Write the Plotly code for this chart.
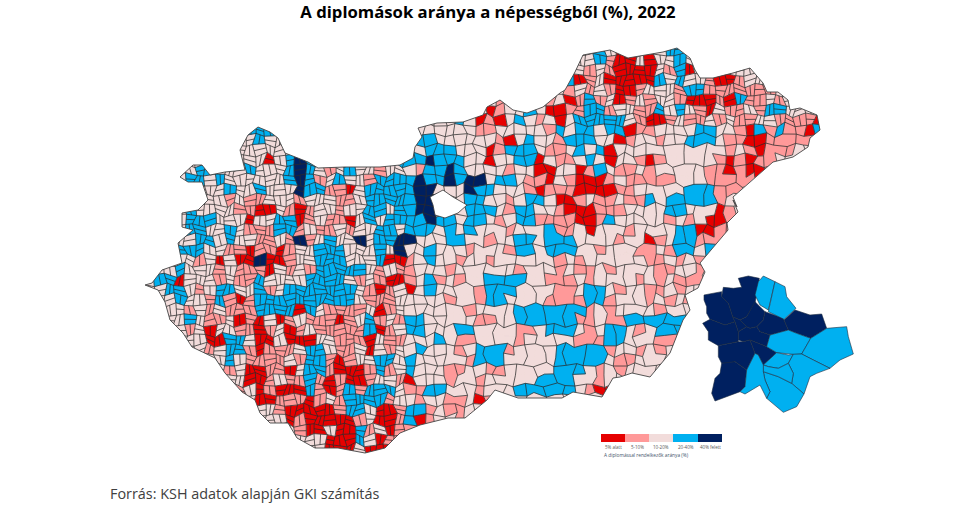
import plotly.graph_objects as go
import math

TITLE = "A diplomások aránya a népességből (%), 2022"
SOURCE = "Forrás: KSH adatok alapján GKI számítás"
LEGEND_TITLE = "A diplomással rendelkezők aránya (%)"
CATEGORY_KEYS = ["a", "b", "c", "d", "e"]
CATEGORY_LABELS = ["5% alatt", "5-10%", "10-20%", "20-40%", "40% felett"]
CATEGORY_COLORS = ["#E60000", "#FF9999", "#F2DCDB", "#00B0F0", "#002060"]

# Category of each map cell: one row per 10 px band,
# 10 columns per group; "." lies outside the country and is masked.
CELL_ROWS = [
".......... .......... .......... .......... ....cdcacc ccddc..... .........",
".......... .......... .......... .......... ...ccdbaac accdcaa... .........",
".......... .......... .......... .......... ..ccbcbaaa acbdac.... cc.......",
".......... .......... .......... .......... ..dabcaaaa adcdccbaab ccc......",
".......... .......... .......... .......... .cbcbcbaab cccbddbbbb bbbcc....",
".......... .......... .......... ....cbc..c bcabdbcabc bccbaaabad bbcbccc..",
".......... .......... .......... ....abccdc aabbddbccb bdcdcbacbb cbddcccc.",
".......... .......... .......... cdcabacdcb cacdddddcb aabcbbcbcb bccbbbba.",
".......... ddd....... .......ccc cccbbccccc bdcddcddab bccccddccb adbdbbad.",
".......... cdccc..... .......ddc cccccbacdc cbdddccabc cbccdddcbb aabbbbb..",
".......... cccccd.... .......cdd dcccabdddc bbcdcdaccc ccccccccbc babbbcc..",
".........c ccacdedccc cccccddded ddccaccdda cbbcdcaccb abcccccbab abbcc....",
".....ddccc dcccdedcbc dccbcccbdd edccccbcca accabdcbbc bcccccbbab aab......",
"....ddcdcc ccccdedbcd ccbddddedd edeecddcbb acbaaabcbb bbbcccbbbb ba.......",
"......ccdc cdccceddbb acdddddee. ..eddcccba bbbaaaabbc ccccdddbbb .........",
".....cccbc bbcccbcccb bcdddddeee ..ddccbcdd caabcbbcbb dcdddddbc. .........",
"....dccccb baacbabccb ccddcddee. ..dddcbddc cbaaabbbcc ccddcccab. .........",
"....dddccc accddabcbb acdcdddded dcddcbcddb bbbaabdccc ccbcbcaab. .........",
"....ddccdc bbbddbcbbc bccddcdddc dcdcccbccc dbbcacccbc cccddaabb. .........",
"....cddcdc cbbcbebcdc cecddeeccc ddccbccddc dddccccbcc abcddbbbcc .........",
"...dddccbb abbabccddd cccdceccdc ccbcccbddc dddccbcccb bcbddcddcc .........",
"...ccbcaca aeaabccddd cccdaabcdc cbccbccccc cbcbcccccc bbcbcbcbcc .........",
"..cdcccbcb bbacbcbddd ddcbcbbccc bccccccbcc cbcbbcbccc cbbccbcccc .........",
".ddacccbcb bdccccdddd cbcbaabcdb cbccddddcc bbbcbccccb cbcbbbcccc .........",
"ccddcbcddc cdbcdddddd dcbabcacdc cccbdddccc cbbcddcbcc bbcbcccccc .........",
"..cdccbdba bddddddddd dcbbbccccc bccbddcccc bbbbddbccc bcbcbccccc .........",
"..ccbcbcbb bddddadcbb bbcabccccc ccbccccddd ddddbcbccc cbcccccccc .........",
"...cdcbbca bacabcbbba bcdbcbddcc cccbbccddd dddbbcbbdd ddddcccccc .........",
"...cbcaccb babcabcbbb bbdabcddcc cddccccbbc dddcbcddcb cdddcccccc .........",
"....ccaadd caacaaaccb bbacbbcccd cbbccccbcc cccbbbddcc cbbccccccc .........",
"....ccbcdd babbbcddcb bcacbccdcc cbcdddbccc cdddddbccb cbcccccccc .........",
".......cdc bbbbcbddba bccddcdccc ccbdddcccc cdddddcbbc cccccccccc .........",
"........bc aabbacddba aabdbcdccc bbccbbcccc cdddcbcbcc cccccccccc .........",
".........c aabcbbdbab aabccbaccc bccbcccccd dddccbcccc cccccccccc .........",
".........b cabaaadbab dbdddcbbdd cccbcccddd dddcbaaccc cccccccccc .........",
".......... .aabbbabcb ddddbccbcc bbcabccccc ccccccccc. .......... .........",
".......... .ccbaaaaab ddcaabddbc bbc....... .......... .......... .........",
".......... ..ccabaaaa abcaabdabc cb........ .......... .......... .........",
".......... .....baaca adbcabbcbc .......... .......... .......... .........",
".......... ......ccaa adcabb.... .......... .......... .......... .........",
".......... .......caa acaaa..... .......... .......... .......... .........",
]

# Country outline and the empty capital area (px).
OUTLINE_X = [145,158,165,170,183,192,215,225,242,255,260,270,288,297,315,338,365,385,400,420,448,465,487,495,518,562,573,602,613,620,632,650,670,683,690,685,698,705,700,717,728,727,738,733,737,733,752,773,793,808,810,820,817,800,790,788,778,767,763,750,733,713,700,695,690,677,663,647,628,610,593,583,575,565,560,543,527,513,500,487,483,463,437,418,422,415,413,400,380,345,318,308,285,278,270,258,248,240,245,225,210,202,193,180,188,202,208,198,182,182,193,178,182,162,152]
OUTLINE_Y = [285,290,302,320,333,347,358,373,392,400,413,423,423,438,448,448,453,448,433,425,418,418,400,390,398,398,392,397,378,377,373,377,353,320,310,295,288,272,263,243,230,223,212,200,207,197,180,162,157,147,138,130,115,108,110,100,92,92,83,68,73,78,78,70,58,48,52,55,58,50,53,55,72,90,93,107,113,110,100,107,115,122,123,128,137,147,158,165,167,167,168,162,153,138,132,127,135,150,170,172,175,165,165,177,182,182,200,210,213,227,230,243,263,270,283]
HOLE_X = [430,443,453,467,458,445,435,433]
HOLE_Y = [197,190,197,205,213,218,215,205]

# Budapest inset districts (px).
INSET_NAVY = [
 [(415,235),(445,228),(478,235),(470,290),(465,310),(440,350),(420,360),(398,350),(385,310),(365,290),(370,262),(400,265),(425,262)],
 [(312,285),(365,275),(365,290),(385,310),(398,350),(405,365),(375,375),(330,358),(320,340),(320,320),(312,300)],
 [(465,305),(495,335),(490,360),(470,380),(450,385),(440,380),(420,360),(440,350)],
 [(495,335),(550,355),(552,360),(565,390),(510,405),(480,395),(470,380),(490,360)],
 [(552,360),(585,330),(630,345),(665,342),(680,385),(632,415),(590,400),(565,390)],
 [(330,358),(375,375),(405,365),(415,395),(415,425),(355,437),(325,420),(325,395),(308,370)],
 [(398,350),(420,360),(440,380),(415,395),(405,365)],
 [(415,395),(440,380),(450,385),(470,380),(480,395),(510,405),(500,440),(475,430),(450,420),(430,425),(415,420)],
 [(355,437),(415,425),(430,425),(450,420),(465,460),(440,510),(405,485),(385,490),(365,490),(355,470)],
 [(450,420),(475,430),(500,440),(530,458),(490,495),(475,465),(465,460)],
 [(365,490),(405,485),(440,510),(435,560),(420,575),(345,603),(335,580),(345,535),(360,520)],
]
INSET_BLUE = [
 [(490,228),(525,245),(505,330),(480,315),(465,285),(475,245)],
 [(525,245),(555,260),(560,290),(588,325),(552,358),(505,335)],
 [(510,405),(565,390),(590,400),(632,415),(605,462),(580,463),(530,458),(500,440)],
 [(632,415),(680,385),(740,380),(745,410),(760,462),(720,480),(690,505),(640,480),(605,462)],
 [(530,458),(565,465),(580,463),(565,490),(535,505),(505,500),(490,495)],
 [(580,463),(605,462),(640,480),(690,505),(650,520),(630,530),(612,582),(575,550),(580,520),(565,490)],
 [(490,515),(535,530),(575,550),(612,582),(590,620),(550,637),(500,595),(510,575),(495,540)],
 [(565,490),(580,520),(575,550),(535,530),(490,515),(490,495),(505,500),(535,505)],
 [(465,460),(475,465),(490,495),(490,515),(495,540),(510,575),(500,595),(480,555),(435,582),(420,575),(435,560),(440,510)],
]

W, H = 975, 509
X0, Y0, PITCH = 145, 45, 10
rows = ["".join(g.ljust(10, ".") for g in r.split()).replace(".", "c") for r in CELL_ROWS]
N_COLS = len(rows[0])


def warp(c, r):
    """Grid corner in px; bent slightly so cell edges are not ruler straight."""
    x = X0 + PITCH * c + 1.9 * math.sin(1.7 * r + 2.3 * c) + 0.9 * math.sin(0.9 * c - 3.1 * r)
    y = Y0 + PITCH * r + 1.9 * math.sin(2.1 * c - 1.3 * r) + 0.9 * math.cos(3.3 * c + 0.7 * r)
    return x, y


def mid(p, q):
    return (p[0] + q[0]) / 2, (p[1] + q[1]) / 2


def cat(r, c):
    if 0 <= r < len(rows) and 0 <= c < N_COLS:
        return rows[r][c]
    return "."


def big_cell_area(r, c):
    x, y = X0 + PITCH * c, Y0 + PITCH * r
    return (x > 440 and y > 215) or (x > 640 and 130 < y < 215)


def small_cell_area(r, c):
    x, y = X0 + PITCH * c, Y0 + PITCH * r
    return x < 400 or (x > 570 and y < 120)


def add_seg(xs, ys, p, q):
    xs += [p[0], q[0], None]
    ys += [p[1], q[1], None]


fig = go.Figure()

# filled cells, one trace per class
for key, label, colour in zip(CATEGORY_KEYS, CATEGORY_LABELS, CATEGORY_COLORS):
    xs, ys = [], []
    for r, row in enumerate(rows):
        for c, v in enumerate(row):
            if v == key:
                corners = [warp(c, r), warp(c + 1, r), warp(c + 1, r + 1), warp(c, r + 1), warp(c, r)]
                xs += [p[0] for p in corners] + [None]
                ys += [p[1] for p in corners] + [None]
    fig.add_trace(go.Scatter(x=xs, y=ys, mode="lines", fill="toself", fillcolor=colour,
                             line=dict(width=0.3, color=colour), name=label,
                             hoverinfo="skip", showlegend=False))

# municipality borders
bx, by = [], []
for r in range(len(rows)):
    for c in range(N_COLS):
        v = cat(r, c)
        big = big_cell_area(r, c)
        right, below = cat(r, c + 1), cat(r + 1, c)
        if right != "." and (right != v or not big or c % 2 == (r // 2) % 2):
            add_seg(bx, by, warp(c + 1, r), warp(c + 1, r + 1))
        if below != "." and (below != v or not big or r % 2 == 1):
            add_seg(bx, by, warp(c, r + 1), warp(c + 1, r + 1))
        if small_cell_area(r, c):
            tl, tr, br, bl = warp(c, r), warp(c + 1, r), warp(c + 1, r + 1), warp(c, r + 1)
            if (r + c) % 2 == 0:
                add_seg(bx, by, mid(tl, tr), mid(bl, br))
            else:
                add_seg(bx, by, mid(tl, bl), mid(tr, br))
fig.add_trace(go.Scatter(x=bx, y=by, mode="lines", line=dict(color="#2b2b2b", width=0.75),
                         hoverinfo="skip", showlegend=False))

# white page outside the outline (keyhole polygon) and the capital's gap
ox = OUTLINE_X + OUTLINE_X[:1]
oy = OUTLINE_Y + OUTLINE_Y[:1]
fig.add_trace(go.Scatter(x=[0, 0, W, W, 0, 0] + ox[::-1] + [0],
                         y=[oy[0], H, H, -1, -1, oy[0]] + oy[::-1] + [oy[0]],
                         mode="lines", fill="toself", fillcolor="white", line=dict(width=0),
                         hoverinfo="skip", showlegend=False))
fig.add_trace(go.Scatter(x=ox, y=oy, mode="lines", line=dict(color="#444444", width=0.9),
                         hoverinfo="skip", showlegend=False))
fig.add_trace(go.Scatter(x=HOLE_X + HOLE_X[:1], y=HOLE_Y + HOLE_Y[:1], mode="lines", fill="toself",
                         fillcolor="white", line=dict(color="#333333", width=0.8),
                         hoverinfo="skip", showlegend=False))

# Budapest inset
for polys, colour in ((INSET_NAVY, CATEGORY_COLORS[4]), (INSET_BLUE, CATEGORY_COLORS[3])):
    for poly in polys:
        pts = poly + poly[:1]
        fig.add_trace(go.Scatter(x=[600 + p[0] / 3 for p in pts], y=[200 + p[1] / 3 for p in pts],
                                 mode="lines", fill="toself", fillcolor=colour,
                                 line=dict(color="#1d2b40", width=0.6),
                                 hoverinfo="skip", showlegend=False))

# legend
LEG_EDGES = [601, 625, 649, 673, 698, 722]
shapes = []
annotations = []
for i, (label, colour) in enumerate(zip(CATEGORY_LABELS, CATEGORY_COLORS)):
    shapes.append(dict(type="rect", xref="x", yref="y", x0=LEG_EDGES[i], x1=LEG_EDGES[i + 1],
                       y0=434, y1=442, fillcolor=colour, line=dict(width=0)))
    annotations.append(dict(x=(LEG_EDGES[i] + LEG_EDGES[i + 1]) / 2, y=447, xref="x", yref="y",
                            text=label, showarrow=False, xanchor="center", yanchor="middle",
                            font=dict(size=4.5, color="#555555", family="Open Sans")))
annotations.append(dict(x=602, y=455, xref="x", yref="y", text=LEGEND_TITLE, showarrow=False,
                        xanchor="left", yanchor="middle",
                        font=dict(size=4.8, color="#44546A", family="Open Sans")))
annotations.append(dict(x=108, y=493, xref="x", yref="y", text=SOURCE, showarrow=False,
                        xanchor="left", yanchor="middle",
                        font=dict(size=14.4, color="#404040", family="Open Sans")))

fig.update_layout(
    width=W, height=H, margin=dict(l=0, r=0, t=0, b=0), autosize=False,
    paper_bgcolor="white", plot_bgcolor="white", showlegend=False,
    title=dict(text=f"<b>{TITLE}</b>", x=488 / W, xanchor="center", y=1 - 12 / H, yanchor="middle",
               font=dict(size=16.7, color="black", family="Open Sans")),
    xaxis=dict(range=[0, W], visible=False, fixedrange=True),
    yaxis=dict(range=[H, 0], visible=False, fixedrange=True),
    shapes=shapes, annotations=annotations,
)
fig.write_html("out.html", config={"displayModeBar": False},
               post_script="document.body.style.margin='0';")
